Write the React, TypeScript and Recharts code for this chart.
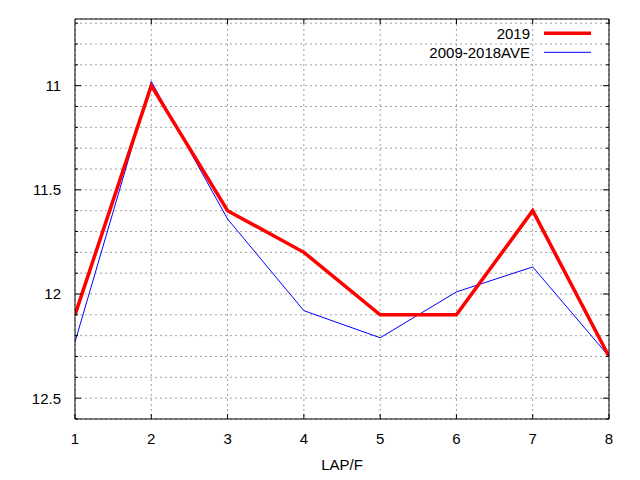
import React from 'react';
import { LineChart, Line, XAxis, YAxis, CartesianGrid, Legend } from 'recharts';

const laps = [1, 2, 3, 4, 5, 6, 7, 8];
const values2019 = [12.1, 11.0, 11.6, 11.8, 12.1, 12.1, 11.6, 12.3];
const valuesAve = [12.23, 10.98, 11.64, 12.08, 12.21, 11.99, 11.87, 12.3];
const seriesNames = ['2019', '2009-2018AVE'];
const xTicks = [1, 2, 3, 4, 5, 6, 7, 8];
const yTicks = [10.7, 10.8, 10.9, 11.0, 11.1, 11.2, 11.3, 11.4, 11.5, 11.6, 11.7, 11.8, 11.9, 12.0, 12.1, 12.2, 12.3, 12.4, 12.5, 12.6];
const yLabels = [11, 11.5, 12, 12.5];
const xTitle = 'LAP/F';

const data = laps.map((lap, i) => ({ lap, s2019: values2019[i], ave: valuesAve[i] }));

const FONT = '"Liberation Sans", Arial, Helvetica, sans-serif';
const RED = '#ff0000';
const BLUE = '#0000ff';

const isMajor = (v: number) => yLabels.some((l) => Math.abs(l - v) < 1e-6);

const LeftTick = (props: any) => {
  const { x, y, payload } = props;
  const v = payload.value;
  const major = isMajor(v);
  const edge = x + 14;
  return (
    <g>
      <line x1={edge} x2={edge + (major ? 6 : 3)} y1={y} y2={y} stroke="#000" strokeWidth={1} />
      {major && (
        <text x={x} y={y} dy="0.36em" textAnchor="end" fontSize={15} fontFamily={FONT} fill="#000">
          {String(v)}
        </text>
      )}
    </g>
  );
};

const RightTick = (props: any) => {
  const { x, y, payload } = props;
  const major = isMajor(payload.value);
  return <line x1={x} x2={x - (major ? 6 : 3)} y1={y} y2={y} stroke="#000" strokeWidth={1} />;
};

const BottomTick = (props: any) => {
  const { x, y, payload } = props;
  return (
    <g>
      <line x1={x} x2={x} y1={y} y2={y - 5} stroke="#000" strokeWidth={1} />
      <text x={x} y={y + 24.5} textAnchor="middle" fontSize={15} fontFamily={FONT} fill="#000">
        {String(payload.value)}
      </text>
    </g>
  );
};

const TopTick = (props: any) => {
  const { x, y } = props;
  return <line x1={x} x2={x} y1={y} y2={y + 5} stroke="#000" strokeWidth={1} />;
};

const LegendContent = () => (
  <svg width={640} height={480} style={{ position: 'absolute', left: 0, top: 0, pointerEvents: 'none' }}>
    <text x={530} y={38.5} textAnchor="end" fontSize={15} fontFamily={FONT} fill="#000">
      {seriesNames[0]}
    </text>
    <line x1={544} x2={591} y1={33.3} y2={33.3} stroke={RED} strokeWidth={3.5} />
    <text x={530} y={57.5} textAnchor="end" fontSize={15} fontFamily={FONT} fill="#000">
      {seriesNames[1]}
    </text>
    <line x1={544} x2={591} y1={52.3} y2={52.3} stroke={BLUE} strokeWidth={1} />
  </svg>
);

export default function App() {
  return (
    <div style={{ position: 'absolute', left: 0, top: 0, width: 640, height: 480, background: '#fff' }}>
      <LineChart width={640} height={480} data={data} margin={{ top: 0, right: 0, bottom: 0, left: 0 }}>
        <CartesianGrid stroke="#a0a0a0" strokeDasharray="2 3" />
        <XAxis
          dataKey="lap"
          type="number"
          domain={[1, 8]}
          allowDataOverflow
          ticks={xTicks}
          interval={0}
          height={61}
          tickLine={false}
          tickSize={0}
          tickMargin={0}
          axisLine={{ stroke: '#000', strokeWidth: 1 }}
          tick={<BottomTick />}
          label={{ value: xTitle, position: 'insideBottom', offset: 10.5, fill: '#000', fontSize: 15, fontFamily: FONT }}
        />
        <XAxis
          xAxisId="top"
          orientation="top"
          type="number"
          domain={[1, 8]}
          allowDataOverflow
          ticks={xTicks}
          interval={0}
          height={19}
          tickLine={false}
          tickSize={0}
          tickMargin={0}
          axisLine={{ stroke: '#000', strokeWidth: 1 }}
          tick={<TopTick />}
        />
        <YAxis
          type="number"
          domain={[10.68, 12.6]}
          allowDataOverflow
          reversed
          ticks={yTicks}
          interval={0}
          width={75}
          tickLine={false}
          tickSize={0}
          tickMargin={14}
          axisLine={{ stroke: '#000', strokeWidth: 1 }}
          tick={<LeftTick />}
        />
        <YAxis
          yAxisId="right"
          orientation="right"
          type="number"
          domain={[10.68, 12.6]}
          allowDataOverflow
          reversed
          ticks={yTicks}
          interval={0}
          width={31}
          tickLine={false}
          tickSize={0}
          tickMargin={0}
          axisLine={{ stroke: '#000', strokeWidth: 1 }}
          tick={<RightTick />}
        />
        <Legend
          layout="vertical"
          align="center"
          verticalAlign="middle"
          content={<LegendContent />}
          wrapperStyle={{ left: 0, top: 0, width: 640, height: 480, margin: 0, pointerEvents: 'none' }}
        />
        <Line
          type="linear"
          dataKey="ave"
          name={seriesNames[1]}
          stroke={BLUE}
          strokeWidth={1}
          dot={false}
          activeDot={false}
          isAnimationActive={false}
        />
        <Line
          type="linear"
          dataKey="s2019"
          name={seriesNames[0]}
          stroke={RED}
          strokeWidth={3.5}
          dot={false}
          activeDot={false}
          isAnimationActive={false}
        />
      </LineChart>
    </div>
  );
}
